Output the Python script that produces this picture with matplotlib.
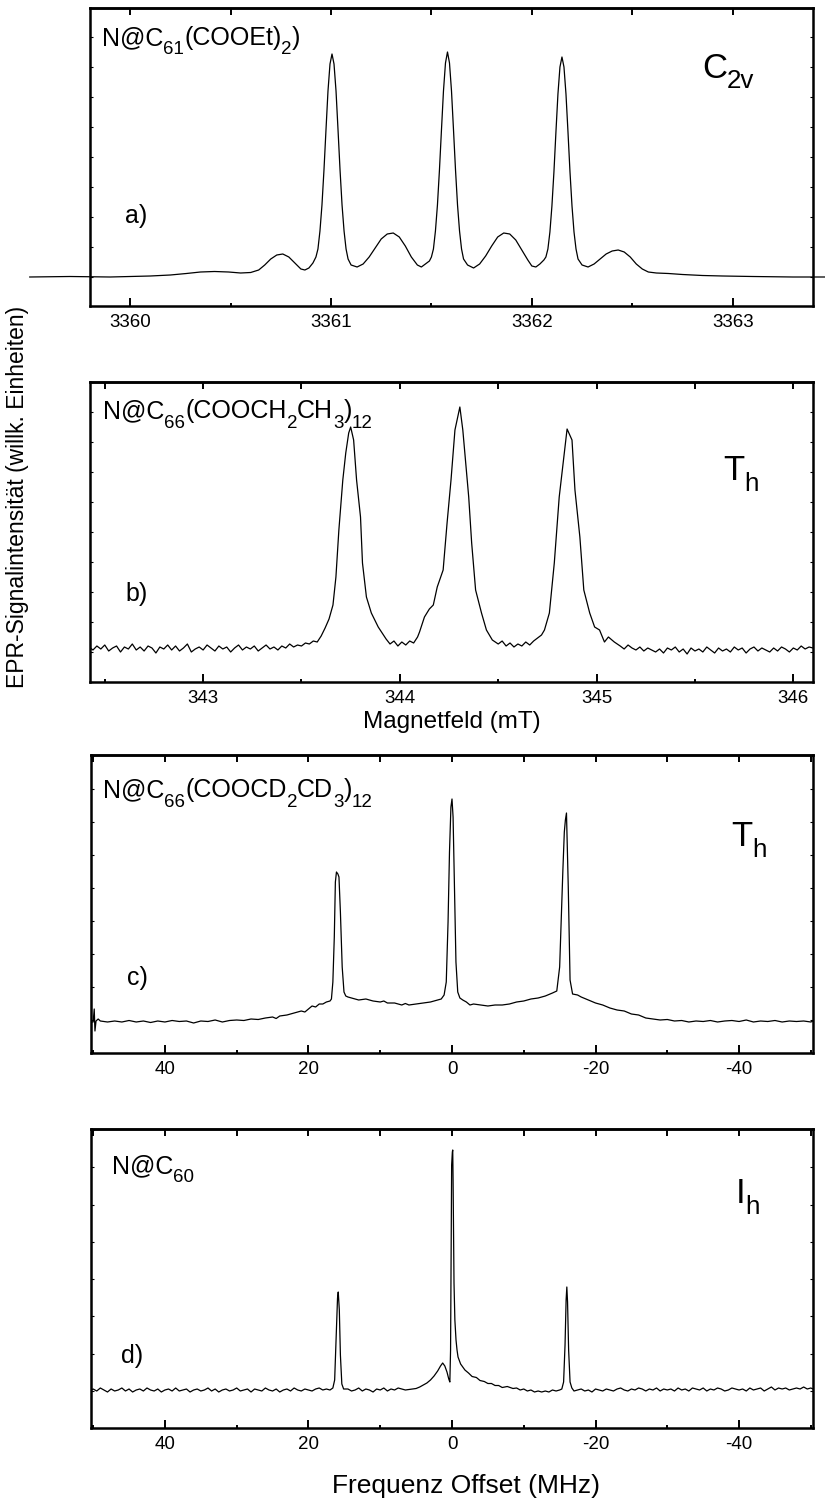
import numpy as np
import matplotlib
matplotlib.use('Agg')
import matplotlib.pyplot as plt
from matplotlib.ticker import MultipleLocator, FormatStrFormatter, NullLocator

plt.rcParams['font.family'] = ['Liberation Sans', 'DejaVu Sans']
plt.rcParams['axes.unicode_minus'] = False

# --- a) N@C61(COOEt)2 : field (mT) vs. signal (arb. units) ---
a_field = [
    3359.50, 3359.70, 3359.90, 3360.00, 3360.10, 3360.20, 3360.28, 3360.35, 3360.42, 3360.49,
    3360.55, 3360.60, 3360.64, 3360.67, 3360.70, 3360.73, 3360.76, 3360.79, 3360.82, 3360.85,
    3360.87, 3360.89, 3360.91, 3360.925, 3360.935, 3360.945, 3360.955, 3360.965, 3360.975, 3360.985,
    3360.995, 3361.005, 3361.015, 3361.025, 3361.035, 3361.045, 3361.055, 3361.065, 3361.075, 3361.085,
    3361.10, 3361.13, 3361.16, 3361.19, 3361.22, 3361.25, 3361.28, 3361.31, 3361.34, 3361.37,
    3361.40, 3361.43, 3361.45, 3361.47, 3361.49, 3361.50, 3361.51, 3361.52, 3361.53, 3361.54,
    3361.55, 3361.56, 3361.57, 3361.58, 3361.59, 3361.60, 3361.61, 3361.62, 3361.63, 3361.64,
    3361.65, 3361.66, 3361.68, 3361.71, 3361.74, 3361.77, 3361.80, 3361.83, 3361.86, 3361.89,
    3361.92, 3361.95, 3361.98, 3362.00, 3362.02, 3362.04, 3362.06, 3362.07, 3362.08, 3362.09,
    3362.10, 3362.11, 3362.12, 3362.13, 3362.14, 3362.15, 3362.16, 3362.17, 3362.18, 3362.19,
    3362.20, 3362.21, 3362.22, 3362.23, 3362.25, 3362.28, 3362.31, 3362.34, 3362.37, 3362.40,
    3362.43, 3362.46, 3362.49, 3362.52, 3362.55, 3362.58, 3362.62, 3362.68, 3362.75, 3362.85,
    3362.95, 3363.10, 3363.30, 3363.50]
a_signal = [
    0, 0.5, 0, 0.5, 1, 2, 3.5, 5, 5.5, 5,
    4, 4.5, 7, 12, 18, 22, 23, 20, 14, 8,
    7, 9, 14, 20, 28, 46, 72, 107, 147, 186,
    213, 223, 213, 186, 147, 107, 72, 46, 28, 18,
    12, 10, 13, 20, 29, 38, 43, 44, 40, 31,
    20, 12, 10, 13, 16, 20, 28, 46, 72, 107,
    147, 186, 214, 225, 214, 186, 147, 107, 72, 46,
    28, 18, 12, 9, 13, 21, 31, 40, 44, 43,
    37, 27, 17, 11, 10, 13, 17, 20, 28, 45,
    71, 105, 145, 183, 210, 220, 210, 183, 145, 105,
    71, 45, 28, 18, 12, 10, 13, 18, 23, 26,
    27, 25, 20, 13, 8, 5, 4, 3.5, 2.5, 1.5,
    1, 0.5, 0, 0]

# --- b) N@C66(COOCH2CH3)12 : field (mT) vs. signal ---
b_field = [
    342.42, 342.44, 342.46, 342.48, 342.50, 342.52, 342.54, 342.56, 342.58, 342.60,
    342.62, 342.64, 342.66, 342.68, 342.70, 342.72, 342.74, 342.76, 342.78, 342.80,
    342.82, 342.84, 342.86, 342.88, 342.90, 342.92, 342.94, 342.96, 342.98, 343.00,
    343.02, 343.04, 343.06, 343.08, 343.10, 343.12, 343.14, 343.16, 343.18, 343.20,
    343.22, 343.24, 343.26, 343.28, 343.30, 343.32, 343.34, 343.36, 343.38, 343.40,
    343.42, 343.44, 343.46, 343.48, 343.50, 343.52, 343.54, 343.56,
    343.58, 343.60, 343.62, 343.64, 343.66, 343.675, 343.69, 343.71, 343.725, 343.74,
    343.75, 343.765, 343.78, 343.80, 343.81, 343.83, 343.855, 343.87, 343.89, 343.91,
    343.93, 343.95, 343.97, 343.99, 344.01, 344.03, 344.05, 344.07, 344.09, 344.10,
    344.125, 344.15, 344.17, 344.19, 344.22, 344.24, 344.26, 344.28, 344.305, 344.32,
    344.35, 344.365, 344.385, 344.415, 344.44, 344.47, 344.50, 344.52, 344.54, 344.56,
    344.58, 344.60, 344.62, 344.64, 344.66, 344.68, 344.70, 344.72, 344.735, 344.76,
    344.785, 344.81, 344.83, 344.85, 344.875, 344.89, 344.915, 344.935, 344.965, 344.99,
    345.015, 345.04, 345.06, 345.09,
    345.12, 345.14, 345.16, 345.18, 345.20, 345.22, 345.24, 345.26, 345.28, 345.30,
    345.32, 345.34, 345.36, 345.38, 345.40, 345.42, 345.44, 345.46, 345.48, 345.50,
    345.52, 345.54, 345.56, 345.58, 345.60, 345.62, 345.64, 345.66, 345.68, 345.70,
    345.72, 345.74, 345.76, 345.78, 345.80, 345.82, 345.84, 345.86, 345.88, 345.90,
    345.92, 345.94, 345.96, 345.98, 346.00, 346.02, 346.04, 346.06, 346.08, 346.10]
b_signal = [
    0, -3, 1, -2, 2, -4, -1, 1, -5, 0,
    -2, 3, -3, 0, -4, 1, -1, -6, 0, -2,
    2, -3, 1, -4, -1, 3, -5, -2, 0, -3,
    2, -1, -4, 1, -2, 0, -5, -1, 2, -3,
    0, -2, 1, -4, -1, 2, -2, 0, -3, 1,
    -1, 3, 0, 2, 1, 4, 3, 6,
    5, 11, 19, 28, 42, 70, 117, 167, 194, 214,
    220, 207, 167, 130, 84, 50, 34, 28, 20, 14,
    8, 3, 6, 1, 5, 2, 6, 4, 10, 15,
    30, 38, 42, 60, 77, 124, 167, 217, 240, 217,
    150, 104, 57, 34, 17, 7, 3, 6, 1, 4,
    0, 3, 1, 5, 2, 6, 9, 12, 17, 34,
    84, 150, 184, 218, 207, 157, 110, 57, 34, 20,
    17, 5, 10, 5,
    1, -2, 2, -1, -3, 0, -4, -1, -3, -5,
    -2, -6, -1, -3, 0, -5, -2, -7, -1, -4,
    -2, -5, 0, -3, -6, -1, -4, -2, -5, 0,
    -3, -1, -6, -2, 0, -4, -1, -3, -5, -1,
    -4, 0, -2, -5, -1, -3, 1, -2, 0, -1]

# --- c) N@C66(COOCD2CD3)12 : frequency offset (MHz) vs. signal ---
c_freq = [
    50.3, 50.0, 49.85, 49.75, 49.6, 49.3, 49.0, 48.0, 47.0, 46.0,
    45.0, 44.0, 43.0, 42.0, 41.0, 40.0, 39.0, 38.0, 37.0, 36.0,
    35.0, 34.0, 33.0, 32.0, 31.0, 30.0, 29.0, 28.0, 27.0, 26.0,
    25.0, 24.5, 24.0, 23.0, 22.0, 21.0, 20.5, 20.0, 19.5, 19.0,
    18.5, 18.0, 17.5, 17.0, 16.8, 16.6, 16.4, 16.25, 16.1, 15.9,
    15.75, 15.55, 15.3, 15.05, 14.8, 14.5, 14.0, 13.5, 13.0, 12.0,
    11.0, 10.0, 9.5, 9.0, 8.0, 7.0, 6.5, 6.0, 5.0, 4.0,
    3.0, 2.0, 1.5, 1.1, 0.8, 0.55, 0.35, 0.15, 0.0, -0.15,
    -0.35, -0.55, -0.8, -1.1, -1.5, -2.0, -2.5, -3.0, -4.0, -5.0,
    -6.0, -7.0, -8.0, -9.0, -10.0, -11.0, -12.0, -13.0, -14.0, -14.6,
    -15.0, -15.25, -15.45, -15.65, -15.8, -15.95, -16.2, -16.45, -16.8, -17.5,
    -18.0, -19.0, -20.0, -21.0, -22.0, -23.0, -24.0, -25.0, -26.0, -27.0,
    -28.0, -29.0, -30.0, -31.0, -32.0, -33.0, -34.0, -35.0, -36.0, -37.0,
    -38.0, -39.0, -40.0, -41.0, -42.0, -43.0, -44.0, -45.0, -46.0, -47.0,
    -48.0, -49.0, -50.0, -50.3]
c_signal = [
    0, 0, 13, -9, 1, 3, 1, 0, 1, 0,
    1.5, 0, 1, -0.5, 1, 0, 1.5, 0.5, 1, -1,
    1, 0.5, 2, 0, 1.5, 2, 1.5, 3, 2.5, 4,
    5, 3.5, 6, 7, 9, 11, 10, 13, 16, 15,
    18, 18, 20, 21, 23, 40, 85, 140, 150, 148,
    145, 110, 55, 30, 26, 25, 24, 23, 22, 23,
    21, 20, 21, 19, 19, 17, 18.5, 17, 18, 19,
    20, 22, 23, 27, 40, 100, 170, 215, 223, 205,
    130, 60, 30, 24, 22, 20, 17, 18, 17, 16,
    17, 17, 18, 20, 21, 23, 24, 26, 29, 31,
    55, 110, 152, 190, 202, 209, 135, 42, 28, 27,
    25, 22, 19, 17, 14, 12, 11, 8, 7, 4,
    3, 2, 2.5, 1, 1.5, 0, 1, 0.5, 1.5, 0,
    1, 1.5, 0.5, 2, 0, 1, 0.5, 1.5, 0, 1,
    0.5, 1, 0, 1]

# --- d) N@C60 : frequency offset (MHz) vs. signal ---
d_freq = [
    50.3, 50.0, 49.5, 49.0, 48.5, 48.0, 47.5, 47.0, 46.5, 46.0,
    45.5, 45.0, 44.5, 44.0, 43.5, 43.0, 42.5, 42.0, 41.5, 41.0,
    40.5, 40.0, 39.5, 39.0, 38.5, 38.0, 37.5, 37.0, 36.5, 36.0,
    35.5, 35.0, 34.5, 34.0, 33.5, 33.0, 32.5, 32.0, 31.5, 31.0,
    30.5, 30.0, 29.5, 29.0, 28.5, 28.0, 27.5, 27.0, 26.5, 26.0,
    25.5, 25.0, 24.5, 24.0, 23.5, 23.0, 22.5, 22.0, 21.5, 21.0,
    20.5, 20.0, 19.5, 19.0, 18.5, 18.0, 17.5, 17.0,
    16.6, 16.35, 16.15, 15.95, 15.85, 15.7, 15.55, 15.35, 15.1,
    14.5, 14.0, 13.5, 13.0, 12.5, 12.0, 11.5, 11.0, 10.5, 10.0,
    9.5, 9.0, 8.5, 8.0, 7.5, 7.0, 6.5,
    6.0, 5.5, 5.0, 4.5, 4.0, 3.5, 3.0, 2.5, 2.0, 1.6,
    1.3, 1.0, 0.7, 0.45, 0.3, 0.2, 0.12, 0.05, -0.05, -0.1,
    -0.15, -0.28, -0.4, -0.56, -0.7, -0.84, -1.2, -1.8, -2.3, -2.8,
    -3.4, -3.9, -4.5, -5.0, -5.5, -6.0, -6.5, -7.0, -7.7, -8.5,
    -9.0, -9.5, -10.0,
    -10.5, -11.0, -11.5, -12.0, -12.5, -13.0, -13.5, -14.0, -14.5, -15.0,
    -15.3, -15.55, -15.75, -15.9, -16.0, -16.1, -16.25, -16.45, -16.7,
    -17.0, -17.5, -18.0, -18.5, -19.0, -19.5, -20.0, -20.5, -21.0, -21.5,
    -22.0, -22.5, -23.0, -23.5, -24.0, -24.5, -25.0, -25.5, -26.0, -26.5,
    -27.0, -27.5, -28.0, -28.5, -29.0, -29.5, -30.0, -30.5, -31.0, -31.5,
    -32.0, -32.5, -33.0, -33.5, -34.0, -34.5, -35.0, -35.5, -36.0, -36.5,
    -37.0, -37.5, -38.0, -38.5, -39.0, -39.5, -40.0, -40.5, -41.0, -41.5,
    -42.0, -42.5, -43.0, -43.5, -44.0, -44.5, -45.0, -45.5, -46.0, -46.5,
    -47.0, -47.5, -48.0, -48.5, -49.0, -49.5, -50.0, -50.3]
d_signal = [
    0, 1, -1, 2, 0, -2, 1, -1, 0, 2,
    -1, 1, -2, 0, 1, -1, 2, 0, -1, 1,
    -2, 0, 1, -1, 2, -1, 0, 1, -2, 0,
    1, -1, 0, 2, -1, 1, -2, 0, 1, -1,
    0, 2, -1, 0, 1, -2, 1, 0, -1, 2,
    0, -1, 1, -2, 0, 1, -1, 2, 0, -1,
    1, 0, -1, 1, 2, 0, 1, 0,
    2, 10, 50, 92, 98, 80, 35, 6, 1,
    1, -1, 0, 2, -1, 1, 0, -2, 1, 0,
    2, -1, 1, 0, 2, 1, 0,
    0.5, 1, 1.5, 3, 5, 7, 10, 14, 19, 24,
    27, 24, 18, 11, 8, 40, 150, 225, 238, 240,
    210, 107, 70, 50, 40, 33, 26, 20, 17, 13.5,
    12.5, 9.5, 8.5, 6.5, 6.5, 4.5, 4.5, 2.5, 3.5, 1.5,
    2, 0, 1,
    -1, 0, -2, -1, -2, -1, -2, 0, -1, 0,
    1, 8, 45, 90, 103, 88, 40, 8, 2,
    -1, 0, 1, -1, 0, -2, 1, 0, -1, 1,
    0, -1, 1, 2, 0, -1, 1, 0, 2, 1,
    -1, 1, 0, 2, -1, 1, 0, 1, -1, 2,
    0, 1, -1, 2, 1, 0, 2, -1, 1, 0,
    2, 1, -1, 0, 2, 1, 0, 1, -1, 2,
    0, 1, 2, -1, 1, 3, 0, 2, 1, 2,
    0, 1, 2, 1, 3, 1, 2, 1]

# label texts: pieces of (text, is_subscript)
a_name = [('N@C', False), ('61', True), ('(COOEt)', False), ('2', True), (')', False)]
b_name = [('N@C', False), ('66', True), ('(COOCH', False), ('2', True), ('CH', False),
          ('3', True), (')', False), ('12', True)]
c_name = [('N@C', False), ('66', True), ('(COOCD', False), ('2', True), ('CD', False),
          ('3', True), (')', False), ('12', True)]
d_name = [('N@C', False), ('60', True)]
a_group = [('C', False), ('2v', True)]
bc_group = [('T', False), ('h', True)]
d_group = [('I', False), ('h', True)]

W, H = 825, 1501
fig = plt.figure(figsize=(W / 100, H / 100), dpi=100)
renderer = fig.canvas.get_renderer()


def px_text(x, y, s, **kw):
    # place a text by pixel position of the reference picture
    return fig.text(x / W, 1 - y / H, s, **kw)


def rich_text(x, y, parts, size, drop):
    # normal text and lowered subscripts, one piece after the other
    for s, sub in parts:
        fs = size * 0.75 if sub else size
        yy = y + drop if sub else y
        t = px_text(x, yy, s, fontsize=fs, va='baseline', ha='left')
        x += t.get_window_extent(renderer).width


def make_axes(left, top, right, bottom):
    return fig.add_axes([left / W, 1 - bottom / H, (right - left) / W, (bottom - top) / H])


def style_axes(ax, xlim, major, minor, top_ticks, ylim, ystep, yoffset):
    ax.set_xlim(*xlim)
    ax.set_ylim(*ylim)
    ax.xaxis.set_major_locator(MultipleLocator(major))
    ax.xaxis.set_minor_locator(MultipleLocator(minor))
    ax.xaxis.set_major_formatter(FormatStrFormatter('%g'))
    ax.yaxis.set_major_locator(MultipleLocator(ystep, offset=yoffset))
    ax.yaxis.set_minor_locator(NullLocator())
    ax.tick_params(axis='x', which='major', direction='in', length=6, width=1.4,
                   labelsize=13.5, pad=5.5, top=False)
    ax.tick_params(axis='x', which='minor', direction='in', length=2.5, width=1.4, top=False)
    ax.tick_params(axis='y', which='major', direction='in', length=2.5, width=0.8,
                   left=True, right=True, labelleft=False)
    for s in ax.spines.values():
        s.set_linewidth(1.8)
    sec = ax.secondary_xaxis('top')
    sec.set_xticks(top_ticks)
    sec.tick_params(axis='x', direction='in', length=5, width=1.4, labeltop=False)
    sec.spines['top'].set_linewidth(1.8)


ax_a = make_axes(90, 8, 813, 306)
ax_b = make_axes(90, 382, 813, 682)
ax_c = make_axes(91, 755, 813, 1053)
ax_d = make_axes(91, 1129, 813, 1428)

ax_a.plot(a_field, a_signal, color='black', lw=0.9, clip_on=False)
style_axes(ax_a, (3359.80, 3363.40), 1, 0.5, [3360, 3360.5, 3361, 3361.5, 3362, 3362.5, 3363],
           (-29, 269), 30, 0)

ax_b.plot(b_field, b_signal, color='black', lw=0.9)
style_axes(ax_b, (342.425, 346.10), 1, 0.5, [342.5, 343, 343.5, 344, 344.5, 345, 345.5, 346],
           (-35, 265), 30, -5)

freq_top = [50, 40, 30, 20, 10, 0, -10, -20, -30, -40, -50]
ax_c.plot(c_freq, c_signal, color='black', lw=0.9)
style_axes(ax_c, (50.3, -50.3), 20, 10, freq_top, (-31, 267), 33, 2)

ax_d.plot(d_freq, d_signal, color='black', lw=0.9)
style_axes(ax_d, (50.3, -50.3), 20, 10, freq_top, (-38, 261), 37.3, -1)

# sample names, panel letters and point groups
rich_text(102, 45, a_name, 18, 9.5)
rich_text(702, 78, a_group, 25, 10)
px_text(125, 216, 'a)', fontsize=18, va='center')

rich_text(103, 418, b_name, 18, 9.5)
rich_text(723, 480, bc_group, 25, 11)
px_text(125, 594, 'b)', fontsize=18, va='center')

rich_text(103, 797, c_name, 18, 9.5)
rich_text(731, 846, bc_group, 25, 11)
px_text(127, 978, 'c)', fontsize=18, va='center')

rich_text(112, 1173, d_name, 18, 9.5)
rich_text(736, 1203, d_group, 25, 11)
px_text(121, 1356, 'd)', fontsize=18, va='center')

# axis titles
px_text(452, 722, 'Magnetfeld (mT)', fontsize=17.5, ha='center', va='center')
px_text(466, 1486, 'Frequenz Offset (MHz)', fontsize=19, ha='center', va='center')
px_text(18, 497, 'EPR-Signalintensität (willk. Einheiten)', fontsize=16.5,
        rotation=90, ha='center', va='center')

fig.savefig('out.png', dpi=100)
